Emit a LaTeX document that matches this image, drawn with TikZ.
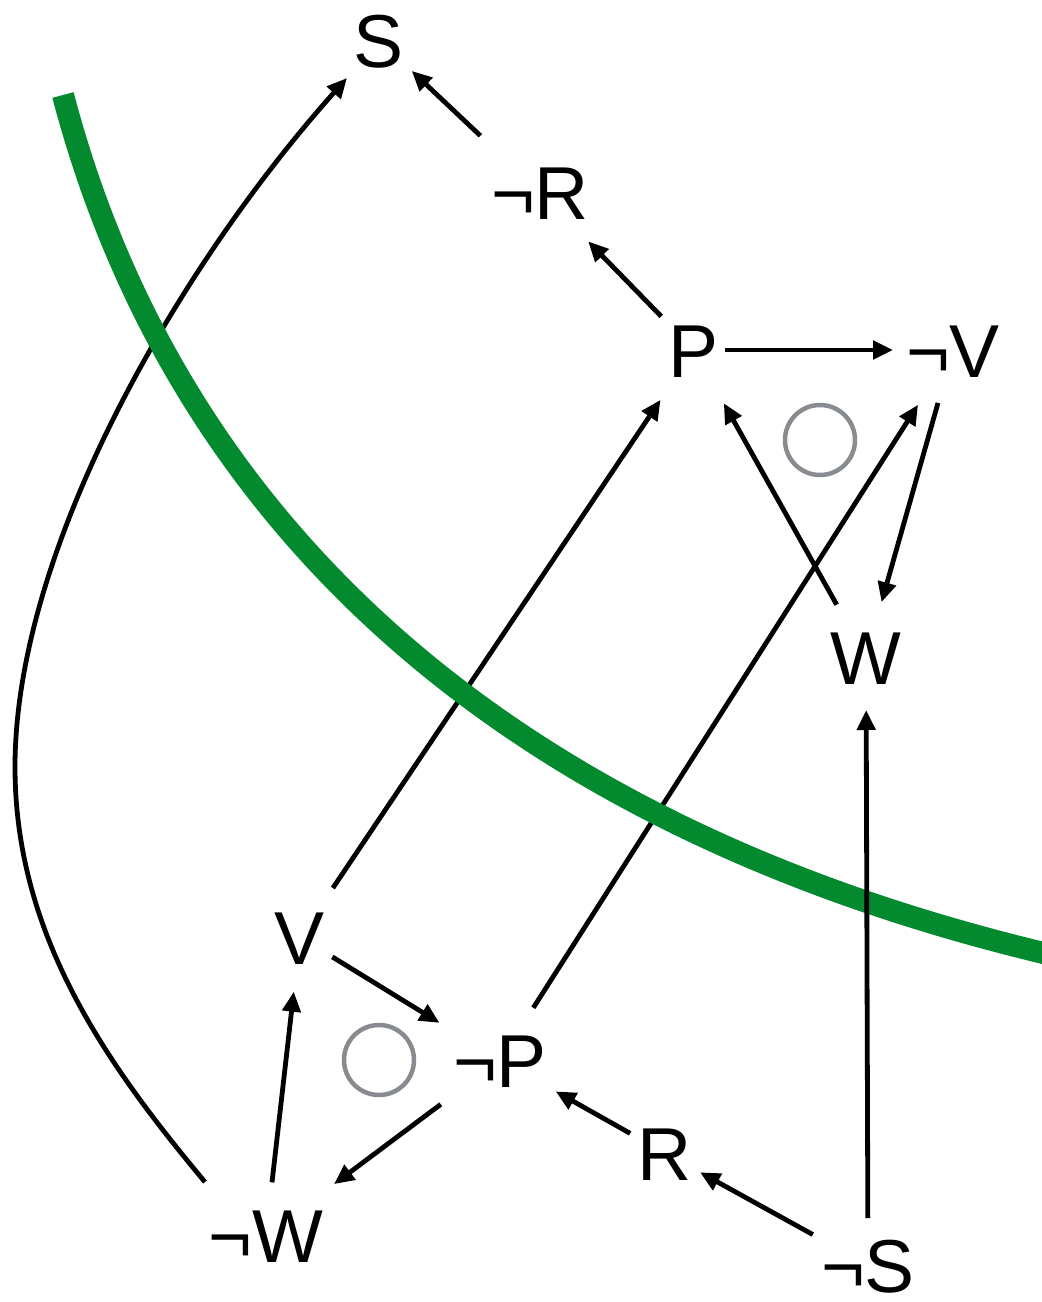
\documentclass[tikz,border=0pt]{standalone}
\usepackage{fontspec}
\setmainfont{Liberation Sans}
\usetikzlibrary{arrows.meta}
\definecolor{gbar}{RGB}{3,138,46}
\definecolor{ring}{RGB}{136,140,144}
\begin{document}
\begin{tikzpicture}[x=1pt,y=-1pt,
  lbl/.style={font=\fontsize{75}{80}\selectfont, inner sep=0pt, text height=54pt, text depth=0pt, anchor=center},
  arr/.style={line width=4.8pt, -{Triangle[length=20pt,width=18pt]}},
  ringc/.style={draw=ring, line width=4.5pt},
  green/.style={draw=gbar, line width=22pt}]
\useasboundingbox (0,0) rectangle (1042,1302);
% nodes
\node[lbl] (S)  at (379,40)   {S};
\node[lbl] (nR) at (540,192)  {¬R};
\node[lbl] (P)  at (694,350)  {P};
\node[lbl] (nV) at (953,350)  {¬V};
\node[lbl] (W)  at (866,657)  {W};
\node[lbl] (V)  at (300,937)  {V};
\node[lbl] (nP) at (500,1060) {¬P};
\node[lbl] (R)  at (665,1153) {R};
\node[lbl] (nW) at (266,1235) {¬W};
\node[lbl] (nS) at (868,1265) {¬S};
% rings
\node[ringc, circle, minimum size=70pt, inner sep=0pt] (o1) at (820,440) {};
\node[ringc, circle, minimum size=70pt, inner sep=0pt] (o2) at (379,1060) {};
% connectors
\draw[arr, shorten <=82pt, shorten >=45pt] (nR.center) -- (S.center);
\draw[arr, shorten <=47pt, shorten >=69pt] (P.center) -- (nR.center);
\draw[arr, shorten <=31pt, shorten >=60pt] (P.center) -- (nV.center);
\draw[arr, shorten <=59pt, shorten >=60pt] (V.center) -- (P.center);
\draw[arr, shorten <=62pt, shorten >=65pt] (nP.center) -- (nV.center);
\draw[arr, shorten <=60pt, shorten >=61pt] (W.center) -- (P.center);
\draw[arr, shorten <=55pt, shorten >=57pt] (nV.center) -- (W.center);
\draw[arr, shorten <=38pt, shorten >=71pt] (V.center) -- (nP.center);
\draw[arr, shorten <=74pt, shorten >=85pt] (nP.center) -- (nW.center);
\draw[arr, shorten <=53pt, shorten >=55pt] (nW.center) -- (V.center);
\draw[arr, shorten <=40pt, shorten >=64pt] (R.center) -- (nP.center);
\draw[arr, shorten <=63pt, shorten >=40pt] (nS.center) -- (R.center);
% long curve from not-W to S
\draw[arr] ([shift={(-61,-53)}]nW.center)
  .. controls (109,1067) and (15,937) .. (15,767)
  .. controls (15,547) and (180,265) .. ([shift={(-32,38)}]S.center);
% green separating curve
\draw[green] (63,95) .. controls (143,400) and (375,795) .. (1052,955);
% line drawn over the green curve
\draw[arr, shorten <=47pt, shorten >=53pt] (nS.center) -- (W.center);
\end{tikzpicture}
\end{document}
